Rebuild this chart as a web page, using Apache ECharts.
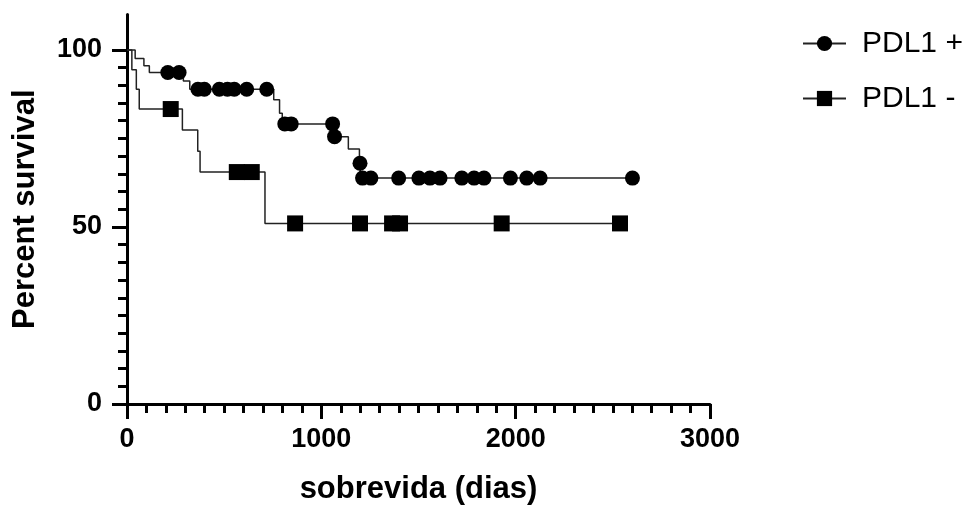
<!DOCTYPE html>
<html>
<head>
<meta charset="utf-8">
<script src="https://cdn.jsdelivr.net/npm/echarts@6/dist/echarts.min.js"></script>
<style>
  html, body { margin: 0; padding: 0; background: #fff; }
  #chart { width: 974px; height: 510px; }
</style>
</head>
<body>
<div id="chart"></div>
<script>
// Kaplan-Meier steps [day, percent] and censor marks
const posSteps = [[0, 100], [42, 97.6], [87, 95.5], [115, 93.6], [290, 91.2], [323, 88.9],
  [755, 85.9], [785, 82.1], [799, 79.1], [1062, 75.5], [1139, 72.0], [1196, 68.0],
  [1205, 63.8], [2601, 63.8]];
const posCensored = [[210, 93.6], [268, 93.6],
  [365, 88.9], [398, 88.9], [475, 88.9], [517, 88.9], [552, 88.9], [616, 88.9], [719, 88.9],
  [812, 79.1], [845, 79.1], [1058, 79.1], [1068, 75.5], [1199, 68.0],
  [1212, 63.8], [1255, 63.8], [1398, 63.8], [1502, 63.8], [1559, 63.8], [1611, 63.8],
  [1723, 63.8], [1786, 63.8], [1837, 63.8], [1973, 63.8], [2057, 63.8], [2126, 63.8], [2601, 63.8]];

const negSteps = [[0, 100], [25, 94.4], [48, 88.9], [63, 83.3], [285, 77.4], [364, 71.4],
  [376, 65.5], [710, 51.0], [2537, 51.0]];
const negCensored = [[225, 83.3], [565, 65.5], [642, 65.5], [865, 51.0], [1199, 51.0],
  [1364, 51.0], [1405, 51.0], [1928, 51.0], [2537, 51.0]];

const seriesNames = ['PDL1 +', 'PDL1 -'];
const yMajorTicks = [0, 50, 100];
const yMinorTicks = [5, 10, 15, 20, 25, 30, 35, 40, 45, 55, 60, 65, 70, 75, 80, 85, 90, 95];

const chart = echarts.init(document.getElementById('chart'));
const ink = '#000';
const font = 'Liberation Sans';

const option = {
  animation: false,
  grid: { left: 127, right: 264, top: 14.5, bottom: 105 },
  legend: {
    data: seriesNames,
    orient: 'vertical',
    left: 797,
    top: 22,
    itemWidth: 43,
    itemHeight: 19,
    itemGap: 22,
    textStyle: { fontFamily: font, fontSize: 30, color: '#000', lineHeight: 33, padding: [0, 0, 0, 11] }
  },
  xAxis: {
    type: 'value',
    min: 0, max: 3000, interval: 1000,
    name: 'sobrevida (dias)',
    nameLocation: 'middle',
    nameGap: 70,
    nameTextStyle: { fontFamily: font, fontSize: 31, fontWeight: 'bold', color: ink },
    axisLine: { show: true, onZero: false, lineStyle: { color: ink, width: 3 } },
    axisTick: { show: true, length: 15, lineStyle: { color: ink, width: 3 } },
    minorTick: { show: true, splitNumber: 10, length: 9, lineStyle: { color: ink, width: 3 } },
    axisLabel: {
      margin: 22, fontFamily: font, fontSize: 27, fontWeight: 'bold', color: ink,
      formatter: v => String(v)
    },
    splitLine: { show: false }
  },
  yAxis: [
    {
      type: 'value',
      min: 0, max: 110, interval: 50,
      name: 'Percent survival',
      nameLocation: 'middle',
      nameGap: 86,
      nameTextStyle: { fontFamily: font, fontSize: 31, fontWeight: 'bold', color: ink },
      axisLine: { show: true, onZero: false, lineStyle: { color: ink, width: 3 } },
      axisTick: { show: true, length: 15, customValues: yMajorTicks, lineStyle: { color: ink, width: 3 } },
      axisLabel: { margin: 25, customValues: yMajorTicks, fontFamily: font, fontSize: 27, fontWeight: 'bold', color: ink },
      splitLine: { show: false }
    },
    {
      type: 'value',
      position: 'left',
      min: 0, max: 110, interval: 5,
      axisLine: { show: false },
      axisTick: { show: true, length: 9, customValues: yMinorTicks, lineStyle: { color: ink, width: 3 } },
      axisLabel: { show: false },
      splitLine: { show: false }
    }
  ],
  series: [
    {
      name: seriesNames[0],
      type: 'line',
      step: 'end',
      data: posSteps,
      symbol: 'circle',
      showSymbol: false,
      itemStyle: { color: ink },
      lineStyle: { color: '#222', width: 1.5 },
      z: 2
    },
    {
      name: seriesNames[0],
      type: 'scatter',
      data: posCensored,
      symbol: 'circle',
      symbolSize: 15,
      itemStyle: { color: ink, opacity: 1 },
      z: 3
    },
    {
      name: seriesNames[1],
      type: 'line',
      step: 'end',
      data: negSteps,
      symbol: 'rect',
      showSymbol: false,
      itemStyle: { color: ink },
      lineStyle: { color: '#222', width: 1.5 },
      z: 2
    },
    {
      name: seriesNames[1],
      type: 'scatter',
      data: negCensored,
      symbol: 'rect',
      symbolSize: 16,
      itemStyle: { color: ink, opacity: 1 },
      z: 3
    }
  ]
};

chart.setOption(option);
window.addEventListener('resize', () => chart.resize());
</script>
</body>
</html>
